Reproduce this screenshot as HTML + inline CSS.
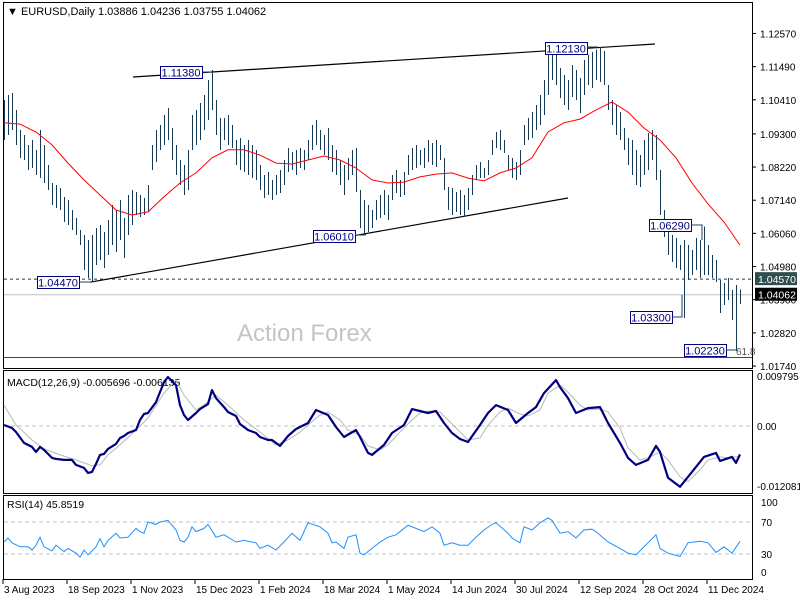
<!DOCTYPE html>
<html><head><meta charset="utf-8"><style>
html,body{margin:0;padding:0;background:#fff;}
svg{display:block;font-family:"Liberation Sans",sans-serif;}
</style></head><body>
<svg id="chart" width="800" height="600" viewBox="0 0 800 600" xmlns="http://www.w3.org/2000/svg">
<rect x="0" y="0" width="800" height="600" fill="#fff"/>
<g id="main"></g>
<g id="macd"></g>
<g id="rsi"></g>
<g id="axes"></g>
</svg>
<script>
const highs=[1.1040,1.1057,1.1063,1.1008,1.0943,1.0926,1.0894,1.0910,1.0878,1.0943,
1.0894,1.0829,1.0770,1.0764,1.0754,1.0725,1.0715,1.0682,1.0656,1.0617,
1.0601,1.0585,1.0601,1.0624,1.0633,1.0611,1.0650,1.0698,1.0682,1.0715,
1.0656,1.0731,1.0747,1.0741,1.0731,1.0721,1.0764,1.0894,1.0943,1.0959,
1.0992,1.1014,1.0949,1.0894,1.0845,1.0829,1.0878,1.0992,1.1008,1.1031,
1.1057,1.1105,1.1138,1.1040,1.0982,1.0982,1.0992,1.0959,1.0910,1.0917,
1.0894,1.0910,1.0894,1.0878,1.0829,1.0796,1.0806,1.0780,1.0796,1.0812,
1.0845,1.0884,1.0871,1.0878,1.0884,1.0878,1.0910,1.0959,1.0975,1.0943,
1.0926,1.0949,1.0894,1.0878,1.0845,1.0829,1.0852,1.0878,1.0884,1.0747,
1.0715,1.0698,1.0682,1.0715,1.0731,1.0747,1.0731,1.0796,1.0812,1.0780,
1.0806,1.0861,1.0884,1.0894,1.0878,1.0884,1.0910,1.0900,1.0910,1.0894,
1.0852,1.0757,1.0754,1.0741,1.0747,1.0731,1.0754,1.0796,1.0829,1.0838,
1.0819,1.0845,1.0910,1.0936,1.0943,1.0910,1.0861,1.0852,1.0838,1.0878,
1.0959,1.0982,1.1001,1.1024,1.1057,1.1105,1.1187,1.1205,1.1187,1.1145,
1.1122,1.1105,1.1154,1.1138,1.1112,1.1171,1.1187,1.1197,1.1205,1.1213,
1.1200,1.1089,1.1040,1.1024,1.1001,1.0949,1.0917,1.0910,1.0878,1.0861,
1.0910,1.0933,1.0943,1.0926,1.0812,1.0682,1.0611,1.0601,1.0591,1.0568,
1.0585,1.0568,1.0552,1.0591,1.0585,1.0629,1.0568,1.0536,1.0519,1.0454,
1.0445,1.0461,1.0422,1.0438,1.04236];
const lows=[1.0910,1.0926,1.0943,1.0894,1.0852,1.0845,1.0812,1.0819,1.0796,1.0786,
1.0770,1.0747,1.0698,1.0689,1.0682,1.0643,1.0633,1.0617,1.0601,1.0568,
1.0487,1.0461,1.0447,1.0503,1.0519,1.0493,1.0536,1.0568,1.0545,1.0585,
1.0526,1.0601,1.0633,1.0666,1.0659,1.0666,1.0676,1.0812,1.0838,1.0878,
1.0894,1.0910,1.0845,1.0796,1.0764,1.0731,1.0747,1.0878,1.0894,1.0910,
1.0943,1.0975,1.1008,1.0926,1.0878,1.0910,1.0894,1.0884,1.0829,1.0812,
1.0806,1.0796,1.0786,1.0780,1.0747,1.0721,1.0731,1.0715,1.0731,1.0738,
1.0764,1.0806,1.0812,1.0796,1.0819,1.0812,1.0845,1.0878,1.0894,1.0878,
1.0861,1.0845,1.0806,1.0796,1.0764,1.0731,1.0780,1.0796,1.0741,1.0624,
1.0601,1.0611,1.0624,1.0650,1.0656,1.0666,1.0650,1.0715,1.0738,1.0725,
1.0731,1.0796,1.0812,1.0819,1.0829,1.0819,1.0838,1.0829,1.0822,1.0845,
1.0747,1.0682,1.0666,1.0676,1.0666,1.0659,1.0682,1.0731,1.0780,1.0786,
1.0786,1.0796,1.0861,1.0884,1.0878,1.0868,1.0812,1.0786,1.0780,1.0796,
1.0894,1.0910,1.0917,1.0943,1.0959,1.0992,1.1057,1.1105,1.1089,1.1047,
1.1024,1.1008,1.1050,1.1040,1.0998,1.1057,1.1089,1.1080,1.1105,1.1099,
1.1089,1.1008,1.0959,1.0926,1.0910,1.0878,1.0829,1.0796,1.0764,1.0757,
1.0796,1.0812,1.0845,1.0780,1.0666,1.0594,1.0536,1.0513,1.0493,1.0487,
1.0330,1.0454,1.0471,1.0487,1.0461,1.0471,1.0471,1.0461,1.0448,1.0347,
1.0373,1.0389,1.0324,1.0223,1.03755];
const maBars=[0,4,8,12,16,20,24,28,32,36,40,44,48,52,56,60,64,68,72,76,80,84,88,92,96,100,104,108,112,116,120,124,128,132,136,140,144,148,152,156,160,164,168,172,176,180,184];
const maVals=[1.0966,1.0962,1.0936,1.0894,1.0835,1.0780,1.0731,1.0682,1.0666,1.0676,1.0725,1.0770,1.0803,1.0852,1.0878,1.0878,1.0861,1.0835,1.0832,1.0845,1.0858,1.0845,1.0819,1.0780,1.0770,1.0773,1.0790,1.0799,1.0803,1.0786,1.0777,1.0803,1.0819,1.0852,1.0936,1.0966,1.0978,1.1008,1.1034,1.1001,1.0949,1.0910,1.0852,1.0770,1.0702,1.0643,1.0568];
const macdBars=[0,2,3,5,7,8,9,10,12,13,15,17,18,20,21,22,23,24,25,26,28,29,30,31,33,34,35,36,38,39,40,41,43,44,45,46,48,49,51,52,53,55,56,58,59,61,63,64,66,67,69,71,73,76,78,81,83,85,88,89,91,92,95,97,100,102,106,108,110,112,114,116,119,121,123,126,128,131,133,135,138,139,141,143,146,149,151,154,156,158,161,163,164,166,169,172,175,178,179,182,183,184];
const macdVals=[0.0002,-0.0004,-0.0012,-0.0034,-0.0042,-0.0052,-0.0042,-0.0048,-0.0064,-0.0066,-0.0068,-0.0068,-0.0078,-0.0084,-0.0094,-0.0092,-0.0076,-0.0058,-0.0056,-0.0046,-0.0036,-0.0024,-0.0020,-0.0014,-0.0008,0.0012,0.0024,0.0026,0.0048,0.0068,0.0088,0.0098,0.0082,0.0042,0.0022,0.0012,0.0026,0.0034,0.0044,0.0072,0.0056,0.0038,0.0028,0.0020,0.0004,-0.0008,-0.0014,-0.0022,-0.0028,-0.0028,-0.0040,-0.0020,-0.0006,0.0006,0.0032,0.0022,-0.0002,-0.0022,-0.0008,-0.0022,-0.0054,-0.0058,-0.0038,-0.0014,0.0002,0.0034,0.0026,0.0030,0.0006,-0.0014,-0.0026,-0.0032,0.0002,0.0026,0.0042,0.0032,0.0006,0.0026,0.0038,0.0066,0.0092,0.0078,0.0056,0.0026,0.0036,0.0038,0.0006,-0.0034,-0.0064,-0.0078,-0.0068,-0.0040,-0.0052,-0.0104,-0.0122,-0.0092,-0.0062,-0.0054,-0.0070,-0.0062,-0.0074,-0.0057];
const sigBars=[0,3,7,10,14,18,22,24,26,29,33,36,40,43,45,48,50,53,56,60,64,68,71,74,76,79,81,84,86,89,91,94,96,99,102,104,106,109,111,114,116,119,121,124,126,129,131,134,136,139,141,144,146,149,151,154,156,159,161,164,166,169,171,174,176,179,181,184];
const sigVals=[0.0042,0.0002,-0.0028,-0.0046,-0.0058,-0.0068,-0.0080,-0.0078,-0.0058,-0.0038,-0.0008,0.0016,0.0066,0.0092,0.0062,0.0032,0.0042,0.0062,0.0042,0.0012,-0.0012,-0.0038,-0.0028,-0.0012,0.0002,0.0022,0.0028,0.0012,-0.0008,-0.0018,-0.0040,-0.0048,-0.0038,-0.0012,0.0012,0.0026,0.0030,0.0028,0.0012,-0.0012,-0.0028,-0.0024,0.0002,0.0028,0.0036,0.0024,0.0020,0.0032,0.0066,0.0082,0.0068,0.0042,0.0032,0.0034,0.0028,-0.0004,-0.0044,-0.0068,-0.0064,-0.0052,-0.0068,-0.0102,-0.0112,-0.0088,-0.0068,-0.0062,-0.0064,-0.0061];
const rsiBars=[0,1,2,4,6,7,8,9,10,12,13,15,16,18,19,20,21,23,24,25,26,28,29,31,33,34,35,36,38,39,41,43,44,45,46,47,48,50,51,53,55,58,60,63,64,66,68,70,72,74,76,79,81,82,83,85,86,88,89,90,92,94,96,98,101,103,105,107,109,110,112,114,116,118,120,122,123,126,127,129,130,132,134,136,137,139,141,143,145,147,148,151,154,156,158,161,163,164,166,169,171,174,176,178,180,182,184];
const rsiVals=[45,50,44,39,39,35,41,51,39,34,41,33,37,31,26,35,29,39,49,39,47,56,50,51,62,58,56,70,67,70,72,60,47,45,51,64,58,62,67,51,54,45,47,44,37,41,35,45,56,47,69,64,56,44,45,37,51,54,31,29,37,45,51,54,66,62,58,64,56,41,44,41,41,51,60,67,69,56,50,44,64,60,69,75,72,56,58,50,60,61,58,45,37,31,29,44,54,37,31,27,44,46,44,32,39,31,45.85];
const priceTicks=["1.12570","1.11490","1.10410","1.09300","1.08220","1.07140","1.06060","1.04980","1.03900","1.02820","1.01740"];
const dateLabels=["3 Aug 2023","18 Sep 2023","1 Nov 2023","15 Dec 2023","1 Feb 2024","18 Mar 2024","1 May 2024","14 Jun 2024","30 Jul 2024","12 Sep 2024","28 Oct 2024","11 Dec 2024"];
const dateBars=[0,16,32,48,64,80,96,112,128,144,160,176];
const macdTicks=["0.009795","0.00","-0.012081"];
const rsiTicks=[100,70,30,0];

const NS="http://www.w3.org/2000/svg";
const xOf=i=>4+4*i;
const yP=p=>351-(p-1.0223)*3071;
const yM=v=>426-v*4985;
const yR=v=>578-v*0.8;
function mk(parent,tag,attrs,text){const e=document.createElementNS(NS,tag);for(const k in attrs)e.setAttribute(k,attrs[k]);if(text!==undefined)e.textContent=text;parent.appendChild(e);return e;}
const main=document.getElementById('main'),mac=document.getElementById('macd'),rsi=document.getElementById('rsi'),axes=document.getElementById('axes');

[[main,3,2,749,366],[mac,3,370,749,123],[rsi,3,495,749,84]].forEach(([g,x,y,w,h])=>{
 const r=mk(g,'rect',{x:x+0.5,y:y+0.5,width:w,height:h,fill:'none',stroke:'#000','stroke-width':1});
 
 
});
let t=mk(main,'text',{x:237,y:341,'font-size':24,fill:'#c4c4c4'},'Action Forex');


t=mk(main,'text',{x:7,y:15,'font-size':11,fill:'#000'},'\u25BC EURUSD,Daily  1.03886 1.04236 1.03755 1.04062');


let l=mk(main,'line',{x1:4,x2:752,y1:yP(1.0457),y2:yP(1.0457),stroke:'#333','stroke-dasharray':'3,3'});


l=mk(main,'line',{x1:4,x2:752,y1:yP(1.04062),y2:yP(1.04062),stroke:'#c0c0c0'});


l=mk(main,'line',{x1:4,x2:752,y1:357.5,y2:357.5,stroke:'#2f4f4f'});


l=mk(main,'line',{x1:133,y1:77,x2:655,y2:44,stroke:'#000','stroke-width':1.2});


l=mk(main,'line',{x1:90,y1:yP(1.0447),x2:568,y2:198,stroke:'#000','stroke-width':1.2});


highs.forEach((h,i)=>{
 const b=mk(main,'line',{x1:xOf(i)+0.5,x2:xOf(i)+0.5,y1:yP(h),y2:yP(lows[i]),stroke:'#173a55','stroke-width':1,'shape-rendering':'crispEdges'});
 
 
});
let d=maBars.map((b,k)=>(k?'L':'M')+xOf(b)+','+yP(maVals[k]).toFixed(1)).join('');
l=mk(main,'path',{d:d,fill:'none',stroke:'#ff0000','stroke-width':1});


function plabel(txt,bx,by,lx,ly,extra){
 const g=mk(main,'g',{});
 
 
 mk(g,'rect',{x:bx+0.5,y:by+0.5,width:42,height:12,fill:'#fff',stroke:'#000080'});
 mk(g,'text',{x:bx+21,y:by+10.5,'font-size':11,fill:'#000080','text-anchor':'middle'},txt);
 mk(g,'path',{d:'M'+(bx+42)+','+ly+'L'+lx+','+ly+(extra||''),fill:'none',stroke:'#1f405c'});
}
plabel('1.04470',37,276,91,282);
plabel('1.11380',160,66,211,72);
plabel('1.06010',313,230,366,235);
plabel('1.12130',545,42,598,47);
plabel('1.06290',649,219,702,225,'L702,240');
plabel('1.03300',630,311,682,317,'L682,295');
plabel('1.02230',684,344,736,350);
t=mk(main,'text',{x:736,y:355,'font-size':10,fill:'#555'},'61.8');



priceTicks.forEach(s=>{
 const y=yP(parseFloat(s));
 const tk=mk(axes,'text',{x:760,y:y+4,'font-size':10,fill:'#000'},s);
 
 
 mk(axes,'line',{x1:752,x2:756,y1:y,y2:y,stroke:'#000'});
});
let g=mk(axes,'g',{});


mk(g,'rect',{x:755,y:yP(1.0457)-7,width:42,height:13,fill:'#2f4f4f'});
mk(g,'text',{x:758,y:yP(1.0457)+4,'font-size':10.5,fill:'#fff'},'1.04570');
g=mk(axes,'g',{});


mk(g,'rect',{x:755,y:yP(1.04062)-7,width:42,height:13,fill:'#000'});
mk(g,'text',{x:758,y:yP(1.04062)+4,'font-size':10.5,fill:'#fff'},'1.04062');

t=mk(mac,'text',{x:7,y:386,'font-size':10.5,fill:'#000'},'MACD(12,26,9) -0.005696 -0.006135');


l=mk(mac,'line',{x1:4,x2:752,y1:yM(0),y2:yM(0),stroke:'#c0c0c0','stroke-dasharray':'4,3'});


d=sigBars.map((b,k)=>(k?'L':'M')+xOf(b)+','+yM(sigVals[k]).toFixed(1)).join('');
l=mk(mac,'path',{d:d,fill:'none',stroke:'#b8b8b8','stroke-width':1});


d=macdBars.map((b,k)=>(k?'L':'M')+xOf(b)+','+yM(macdVals[k]).toFixed(1)).join('');
l=mk(mac,'path',{d:d,fill:'none',stroke:'#000080','stroke-width':2.2,'stroke-linejoin':'round'});


[[macdTicks[0],380],[macdTicks[1],430],[macdTicks[2],490]].forEach(([s,y])=>{
 const tk=mk(axes,'text',{x:757,y:y,'font-size':10,fill:'#000'},s);
 
 
});

t=mk(rsi,'text',{x:7,y:508,'font-size':10.5,fill:'#000'},'RSI(14) 45.8519');


[70,30].forEach(v=>{
 const ln=mk(rsi,'line',{x1:4,x2:752,y1:yR(v),y2:yR(v),stroke:'#c0c0c0','stroke-dasharray':'4,3'});
 
 
});
d=rsiBars.map((b,k)=>(k?'L':'M')+xOf(b)+','+yR(rsiVals[k]).toFixed(1)).join('');
l=mk(rsi,'path',{d:d,fill:'none',stroke:'#1e90ff','stroke-width':1});


rsiTicks.forEach(v=>{
 const y=v===100?506:v===0?576:yR(v)+4;
 const tk=mk(axes,'text',{x:761,y:y,'font-size':10,fill:'#000'},String(v));
 
 
});

dateLabels.forEach((s,k)=>{
 const x=xOf(dateBars[k])-1;
 mk(axes,'line',{x1:x,x2:x,y1:579,y2:584,stroke:'#000'});
 const tk=mk(axes,'text',{x:x+1,y:593,'font-size':10,fill:'#000'},s);
 
 
});
</script>
</body></html>
